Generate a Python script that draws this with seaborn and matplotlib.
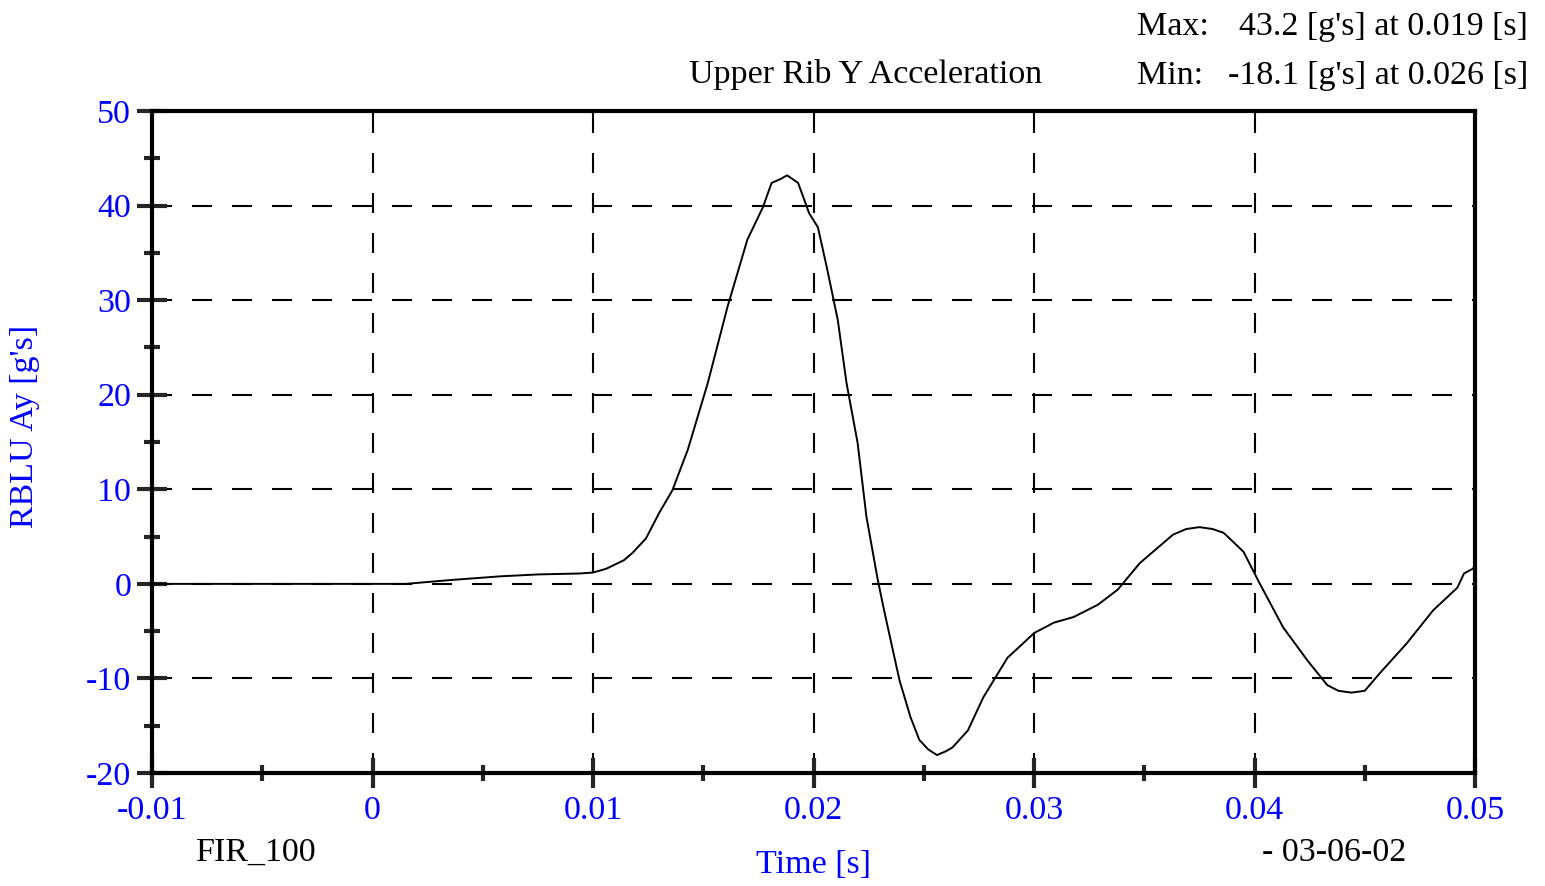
import matplotlib
matplotlib.use('Agg')
import matplotlib.pyplot as plt
import numpy as np
import pandas as pd
import seaborn as sns
from matplotlib.ticker import MultipleLocator

# values
time_s = [-0.0100, 0.0000, 0.0015, 0.0035, 0.0058, 0.0075, 0.0094, 0.0100, 0.0106,
          0.0114, 0.0118, 0.0124, 0.0130, 0.0136, 0.0143, 0.0152, 0.0161, 0.0170,
          0.0177, 0.0181, 0.0185, 0.0188, 0.0193, 0.0198, 0.0202, 0.0206, 0.0211,
          0.0215, 0.0220, 0.0222, 0.0224, 0.0229, 0.0232, 0.0239, 0.0244, 0.0248,
          0.0252, 0.0256, 0.0260, 0.0263, 0.0270, 0.0277, 0.0288, 0.0295, 0.0300,
          0.0309, 0.0318, 0.0329, 0.0338, 0.0348, 0.0356, 0.0363, 0.0369, 0.0375,
          0.0381, 0.0386, 0.0395, 0.0402, 0.0413, 0.0424, 0.0433, 0.0438, 0.0444,
          0.0450, 0.0457, 0.0469, 0.0481, 0.0492, 0.0495, 0.0499, 0.0500]
accel_g = [0.0, 0.0, 0.0, 0.4, 0.8, 1.0, 1.1, 1.2, 1.6,
           2.5, 3.3, 4.8, 7.5, 9.9, 14.2, 21.2, 29.3, 36.4,
           39.8, 42.4, 42.8, 43.2, 42.4, 39.2, 37.7, 33.5, 27.9,
           21.2, 14.9, 11.0, 7.1, 0.6, -2.8, -10.2, -14.1, -16.5,
           -17.5, -18.1, -17.7, -17.3, -15.5, -12.0, -7.8, -6.3, -5.2,
           -4.1, -3.5, -2.2, -0.6, 2.2, 3.8, 5.2, 5.8, 6.0,
           5.8, 5.4, 3.4, 0.2, -4.6, -8.1, -10.7, -11.3, -11.5,
           -11.3, -9.4, -6.3, -2.8, -0.4, 1.1, 1.6, 2.0]

df = pd.DataFrame({'Time [s]': time_s, "RBLU Ay [g's]": accel_g})

sns.set_style('ticks')
plt.rcParams['font.family'] = ['Liberation Serif', 'DejaVu Serif']
plt.rcParams['axes.unicode_minus'] = False
plt.rcParams['text.color'] = 'black'

blue = '#0000ff'
fs = 24.5

fig = plt.figure(figsize=(15.45, 8.86), dpi=100)
ax = fig.add_axes([0.0984, 0.1275, 0.8563, 0.7472])

sns.lineplot(data=df, x='Time [s]', y="RBLU Ay [g's]", ax=ax, color='black',
             linewidth=1.4, zorder=3)

ax.set_xlim(-0.01, 0.05)
ax.set_ylim(-20, 50)
ax.xaxis.set_major_locator(MultipleLocator(0.01))
ax.xaxis.set_minor_locator(MultipleLocator(0.005))
ax.yaxis.set_major_locator(MultipleLocator(10))
ax.yaxis.set_minor_locator(MultipleLocator(5))
ax.set_xticks([-0.01, 0, 0.01, 0.02, 0.03, 0.04, 0.05])
ax.set_xticklabels(['-0.01', '0', '0.01', '0.02', '0.03', '0.04', '0.05'])

ax.grid(True, which='major', color='black', linewidth=1.5, linestyle=(0, (9.6, 9.6)))

for s in ax.spines.values():
    s.set_visible(True)
    s.set_linewidth(3)
    s.set_color('black')

ax.tick_params(which='major', direction='inout', length=22, width=3,
               labelsize=fs, labelcolor=blue, pad=4)
ax.tick_params(axis='x', which='major', pad=5)
ax.tick_params(which='minor', direction='inout', length=12, width=3)

ax.set_xlabel('Time [s]', fontsize=fs, color=blue, labelpad=17)
ax.set_ylabel("RBLU Ay [g's]", fontsize=fs, color=blue)
ax.yaxis.set_label_coords(-0.085, 0.523)

fig.text(0.56, 0.916, 'Upper Rib Y Acceleration', fontsize=fs, ha='center', va='center')
fig.text(0.736, 0.970, 'Max:', fontsize=fs, ha='left', va='center')
fig.text(0.989, 0.970, "43.2 [g's] at 0.019 [s]", fontsize=fs, ha='right', va='center')
fig.text(0.736, 0.914, 'Min:', fontsize=fs, ha='left', va='center')
fig.text(0.989, 0.914, "-18.1 [g's] at 0.026 [s]", fontsize=fs, ha='right', va='center')
fig.text(0.127, 0.038, 'FIR_100', fontsize=fs, ha='left', va='center')
fig.text(0.817, 0.038, '- 03-06-02', fontsize=fs, ha='left', va='center')

fig.savefig('out.png', dpi=100)
